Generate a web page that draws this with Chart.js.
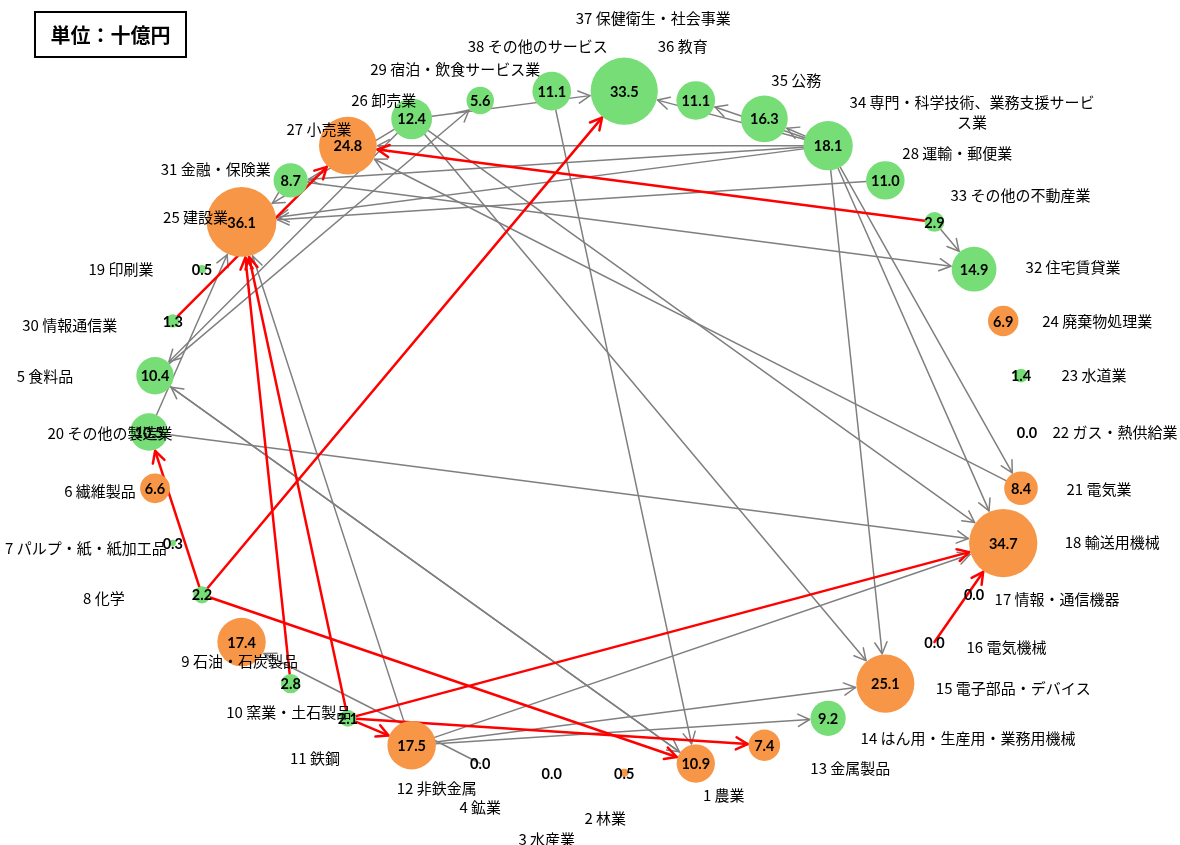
<!DOCTYPE html>
<html><head><meta charset="utf-8">
<script src="https://cdn.jsdelivr.net/npm/chart.js@4.4.1/dist/chart.umd.min.js"></script>
<style>html,body{margin:0;padding:0;background:#fff}#wrap{width:1180px;height:845px;position:relative}</style>
</head><body><div id="wrap"><canvas id="c"></canvas></div>
<script>
// ---------------- DATA ----------------
const codes = [1,2,3,4,5,6,7,8,9,10,11,12,13,14,15,16,17,18,19,20,21,22,23,24,25,26,27,28,29,30,31,32,33,34,35,36,37,38];
const names = ['農業','林業','水産業','鉱業','食料品','繊維製品','パルプ・紙・紙加工品','化学','石油・石炭製品','窯業・土石製品',
  '鉄鋼','非鉄金属','金属製品','はん用・生産用・業務用機械','電子部品・デバイス','電気機械','情報・通信機器','輸送用機械','印刷業','その他の製造業',
  '電気業','ガス・熱供給業','水道業','廃棄物処理業','建設業','卸売業','小売業','運輸・郵便業','宿泊・飲食サービス業','情報通信業',
  '金融・保険業','住宅賃貸業','その他の不動産業','専門・科学技術、業務支援サービス業','公務','教育','保健衛生・社会事業','その他のサービス'];
const values = [10.9,0.5,0.0,0.0,10.4,6.6,0.3,2.2,17.4,2.8,
  2.1,17.5,7.4,9.2,25.1,0.0,0.0,34.7,0.5,10.5,
  8.4,0.0,1.4,6.9,36.1,12.4,24.8,11.0,5.6,1.3,
  8.7,14.9,2.9,18.1,16.3,11.1,33.5,11.1];
// sectors drawn in orange
const groupA = [1,2,6,9,12,13,15,18,21,24,25,27];
// order of sectors around the ring (starting at the bottom, clockwise on screen)
const ringOrder = [1,2,3,4,12,11,10,9,8,7,6,20,5,30,19,25,31,27,26,29,38,37,36,35,34,28,33,32,24,23,22,21,18,17,16,15,14,13];
// links [from, to]
const greyLinks = [[26,25],[26,5],[26,18],[26,15],[26,37],[5,29],[1,5],[5,1],[20,25],[20,18],
  [12,25],[12,18],[12,15],[12,14],[4,9],[38,1],[34,37],[34,36],[34,35],[34,27],[34,31],[34,25],
  [34,21],[34,18],[34,15],[28,25],[21,27],[31,32],[33,32]];
const redLinks = [[30,27],[33,27],[8,37],[8,20],[8,1],[10,25],[11,25],[11,18],[11,12],[11,13],[16,18]];
const unitTitle = '単位：十億円';

// ---------------- LAYOUT / STYLE ----------------
const GREEN = '#77DD77', ORANGE = '#F79646';
const R_K = 5.8;               // bubble radius factor (px per sqrt(value))
const LEFT_INDEX = 11;         // ring index placed at 9 o'clock
const labelOffset = {          // category label centre offset from node centre (px)
  1:[28,32],2:[-19,45],3:[-5,66],4:[0,44],12:[25,43],11:[-33,40],10:[-2,29],9:[-2,19],8:[-98,4],7:[-87,5],
  6:[-55,3],20:[-39,1],5:[-110,1],30:[-103,4],19:[-81,0],25:[-46,-5],31:[-75,-11],27:[-29,-16],26:[-28,-19],
  29:[-25,-31],38:[-14,-45],37:[29,-73],36:[-13,-54],35:[32,-39],34:[144,-43],28:[72,-27],33:[86,-27],
  32:[99,-2],24:[94,0],23:[73,0],22:[88,0],21:[78,1],18:[109,-1],17:[83,5],16:[72,5],15:[128,5],14:[140,20],13:[86,23]
};
const labelWrap = {34: 'ス業'}; // tail moved to a second line

function angleOf(code){
  const i = ringOrder.indexOf(code);
  return (180 - (i - LEFT_INDEX) * 360 / ringOrder.length) * Math.PI / 180;
}
const points = codes.map((c, i) => ({x: Math.cos(angleOf(c)), y: Math.sin(angleOf(c)), r: R_K * Math.sqrt(values[i])}));
const colors = codes.map(c => groupA.includes(c) ? ORANGE : GREEN);

function px(chart, code){
  const i = codes.indexOf(code);
  return {x: chart.scales.x.getPixelForValue(points[i].x), y: chart.scales.y.getPixelForValue(points[i].y), r: points[i].r};
}
function drawLinks(chart, links, color, width){
  const ctx = chart.ctx;
  ctx.save();
  ctx.strokeStyle = color; ctx.lineWidth = width; ctx.lineCap = 'round'; ctx.lineJoin = 'round';
  links.forEach(([a, b]) => {
    const s = px(chart, a), t = px(chart, b);
    const dx = t.x - s.x, dy = t.y - s.y, L = Math.hypot(dx, dy);
    const ux = dx / L, uy = dy / L;
    const x0 = s.x + ux * s.r, y0 = s.y + uy * s.r;
    const x1 = t.x - ux * (t.r + 1), y1 = t.y - uy * (t.r + 1);
    ctx.beginPath(); ctx.moveTo(x0, y0); ctx.lineTo(x1, y1); ctx.stroke();
    const ah = 13, th = 28 * Math.PI / 180;
    ctx.beginPath();
    for (const sg of [1, -1]) {
      const c = Math.cos(sg * th), sn = Math.sin(sg * th);
      const rx = ux * c - uy * sn, ry = ux * sn + uy * c;
      ctx.moveTo(x1 - rx * ah, y1 - ry * ah); ctx.lineTo(x1, y1);
    }
    ctx.stroke();
  });
  ctx.restore();
}
const netPlugin = {
  id: 'net',
  beforeDatasetsDraw(chart){
    drawLinks(chart, greyLinks, '#7F7F7F', 1.5);
    drawLinks(chart, redLinks, '#FF0000', 2.5);
  },
  afterDatasetsDraw(chart){
    const ctx = chart.ctx;
    ctx.save();
    ctx.textAlign = 'center'; ctx.textBaseline = 'middle'; ctx.fillStyle = '#000';
    // category labels
    ctx.font = '15px "Noto Sans CJK JP"';
    codes.forEach((c, i) => {
      const p = px(chart, c), o = labelOffset[c];
      let txt = c + ' ' + names[i];
      if (labelWrap[c]) {
        const tail = labelWrap[c];
        txt = txt.slice(0, txt.length - tail.length);
        ctx.fillText(tail, p.x + o[0], p.y + o[1] + 20);
      }
      ctx.fillText(txt, p.x + o[0], p.y + o[1]);
    });
    // value labels
    ctx.font = 'bold 14.5px Lato';
    codes.forEach((c, i) => {
      const p = px(chart, c);
      ctx.fillText(values[i].toFixed(1), p.x, p.y + 1);
    });
    // unit box
    ctx.lineWidth = 2; ctx.strokeStyle = '#000';
    ctx.strokeRect(35, 12, 151, 45);
    ctx.font = 'bold 20px "Noto Sans CJK JP"';
    ctx.fillText(unitTitle, 110.5, 35);
    ctx.restore();
  }
};

new Chart(document.getElementById('c'), {
  type: 'bubble',
  data: { datasets: [{ data: points, backgroundColor: colors, borderWidth: 0, hoverRadius: 0, clip: false }] },
  options: {
    responsive: true, maintainAspectRatio: false, animation: false,
    layout: { padding: 0, autoPadding: false },
    plugins: { legend: { display: false }, tooltip: { enabled: false } },
    scales: {
      x: { type: 'linear', display: false, min: -588/439, max: 592/439 },
      y: { type: 'linear', display: false, min: -413/342, max: 432/342 }
    }
  },
  plugins: [netPlugin]
});
</script></body></html>
